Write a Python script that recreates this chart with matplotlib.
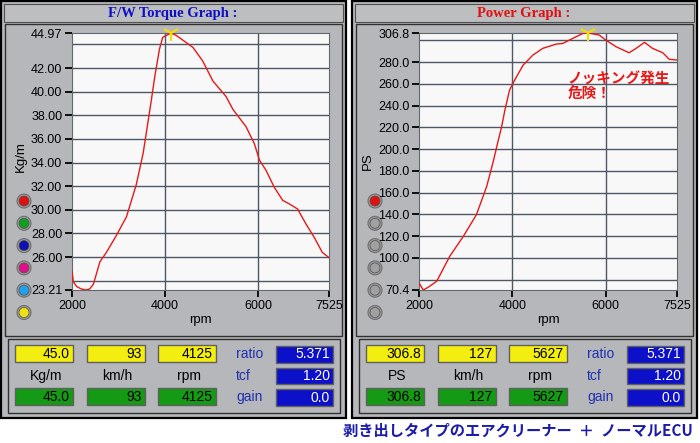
import numpy as np
import matplotlib.pyplot as plt
from matplotlib.patches import Rectangle, Circle

# Dane
torque_rpm = [2000, 2030, 2100, 2200, 2300, 2380, 2460, 2600, 2740, 2950, 3170,
              3380, 3530, 3640, 3710, 3780, 3880, 3950, 4125, 4240, 4600, 4810,
              5030, 5310, 5460, 5740, 5920, 6030, 6170, 6350, 6530, 6670, 6850,
              7030, 7210, 7380, 7525]
torque = [24.8, 23.9, 23.5, 23.3, 23.21, 23.3, 23.7, 25.6, 26.4, 27.8, 29.4,
          32.1, 34.8, 37.6, 39.4, 41.3, 43.6, 44.6, 44.97, 44.77, 43.75, 42.6,
          40.9, 39.6, 38.5, 37.05, 35.6, 34.2, 33.35, 31.9, 30.8, 30.5, 30.07,
          28.8, 27.65, 26.4, 25.95]

power_rpm = [2000, 2090, 2200, 2380, 2660, 2950, 3230, 3450, 3590, 3700, 3770,
             3840, 3940, 4050, 4230, 4440, 4650, 4940, 5080, 5290, 5510, 5627,
             5860, 6000, 6220, 6500, 6650, 6830, 7000, 7220, 7360, 7525]
power = [77, 70.4, 73, 78.5, 101.5, 119.8, 139.7, 165.7, 188.6, 208.5, 220.7,
         236, 254.4, 263.6, 277.3, 286.5, 292.7, 296.6, 297.2, 301.8, 306.4, 306.8,
         304.9, 300.3, 294.2, 288.6, 292.7, 298.2, 292.7, 288.6, 282.6, 282]

rpm_ticks = [2000, 4000, 6000, 7525]
rpm_grid = [4000, 6000]
torque_ticks = [23.21, 26, 28, 30, 32, 34, 36, 38, 40, 42, 44.97]
torque_grid = [24, 26, 28, 30, 32, 34, 36, 38, 40, 42, 44]
power_ticks = [70.4, 100, 120, 140, 160, 180, 200, 220, 240, 260, 280, 306.8]
power_grid = [80, 100, 120, 140, 160, 180, 200, 220, 240, 260, 280, 300]

torque_peak = (4125, 44.97)
power_peak = (5627, 306.8)

left_values = ['45.0', '93', '4125']
left_units = ['Kg/m', 'km/h', 'rpm']
right_values = ['306.8', '127', '5627']
right_units = ['PS', 'km/h', 'rpm']
param_names = ['ratio', 'tcf', 'gain']
param_values = ['5.371', '1.20', '0.0']

W, H = 700, 443
fig = plt.figure(figsize=(W / 100, H / 100), dpi=100, facecolor='white')

# tlo w pikselach
bg = fig.add_axes([0, 0, 1, 1])
bg.set_xlim(0, W)
bg.set_ylim(H, 0)
bg.axis('off')

PANEL = '#b5b7ba'
SANS = 'Liberation Sans'
JP = ['Noto Sans CJK JP', 'DejaVu Sans']


def rect(x0, y0, x1, y1, fc, ec='none', lw=1.0, z=1):
    bg.add_patch(Rectangle((x0, y0), x1 - x0, y1 - y0, facecolor=fc,
                           edgecolor=ec, linewidth=lw, zorder=z))


def draw_panel(ox, title, tcolor, values, units, button_colors):
    rect(ox + 1, 1, ox + 346, 418, PANEL, 'black', 1.6)
    rect(ox + 4, 4, ox + 343, 22, '#bcbec0', '#505050', 0.8)
    rect(ox + 5, 24, ox + 342, 336, PANEL, '#303030', 1.0)
    rect(ox + 8, 339, ox + 340, 413, PANEL, '#303030', 1.0)
    bg.text(ox + 173, 13, title, color=tcolor, ha='center', va='center',
            fontsize=10.5, fontweight='bold', family='Liberation Serif', zorder=3)
    # przyciski z boku
    for k, c in enumerate(button_colors):
        y = 201 + k * 22.3
        bg.add_patch(Circle((ox + 24, y), 7, facecolor='#9a9a9a',
                            edgecolor='#707070', lw=0.8, zorder=2))
        bg.add_patch(Circle((ox + 24, y), 5, facecolor=c,
                            edgecolor='#505050', lw=0.5, zorder=3))
    # pola z wartosciami
    for k in range(3):
        x0 = ox + 15 + k * 71.5
        rect(x0, 345, x0 + 58, 362, '#f4ee10', '#606060', 1.0, 2)
        bg.text(x0 + 55, 354, values[k], ha='right', va='center',
                fontsize=10, family=SANS, zorder=3)
        bg.text(x0 + 31, 376, units[k], ha='center', va='center',
                fontsize=10, family=SANS, zorder=3)
        rect(x0, 388, x0 + 58, 405, '#149a14', '#606060', 1.0, 2)
        bg.text(x0 + 55, 397, values[k], ha='right', va='center',
                fontsize=10, family=SANS, zorder=3)
    for k in range(3):
        y0 = 346 + k * 21.5
        bg.text(ox + 236, y0 + 8.5, param_names[k], ha='left', va='center',
                color='#2030b0', fontsize=10, family=SANS, zorder=3)
        rect(ox + 276, y0, ox + 333, y0 + 16.5, '#0c10c8', '#606060', 1.0, 2)
        bg.text(ox + 330, y0 + 8.5, param_values[k], ha='right', va='center',
                color='white', fontsize=10, family=SANS, zorder=3)


draw_panel(0, 'F/W Torque Graph :', '#1010c8', left_values, left_units,
           ['#e01010', '#10a020', '#1010b0', '#e0108c', '#20a0f0', '#f0e010'])
draw_panel(351, 'Power Graph :', '#e01010', right_values, right_units,
           ['#e01010', '#a0a0a0', '#a0a0a0', '#a0a0a0', '#a0a0a0', '#a0a0a0'])


def px_axes(x0, y0, x1, y1):
    return fig.add_axes([x0 / W, 1 - y1 / H, (x1 - x0) / W, (y1 - y0) / H])


def setup(ax, yticks, ygrid, fmt, ylabel):
    ax.set_facecolor('#f8f8f8')
    ax.set_xlim(2000, 7525)
    ax.set_xticks(rpm_ticks)
    ax.set_yticks(yticks)
    ax.set_yticklabels([fmt % v for v in yticks])
    for g in ygrid:
        ax.axhline(g, color='#4c5866', lw=1.0, zorder=1)
    for g in rpm_grid:
        ax.axvline(g, color='#4c5866', lw=1.0, zorder=1)
    for s in ax.spines.values():
        s.set_color('#606870')
        s.set_linewidth(0.8)
    ax.tick_params(axis='both', direction='out', length=5, width=1.3,
                   color='black', labelsize=9, pad=2)
    for lab in ax.get_xticklabels() + ax.get_yticklabels():
        lab.set_family(SANS)
    ax.set_xlabel('rpm', fontsize=9.5, family=SANS, labelpad=2)
    ax.set_ylabel(ylabel, fontsize=9.5, family=SANS)


ax1 = px_axes(72, 33, 329, 290)
ax1.set_ylim(23.21, 44.97)
setup(ax1, torque_ticks, torque_grid, '%.2f', 'Kg/m')
ax1.yaxis.set_label_coords(-0.175, 0.52)
ax1.plot(torque_rpm, torque, color='#e81818', lw=1.0, zorder=3)
ax1.plot(*torque_peak, marker='1', color='#f0e000', ms=12, mew=1.5,
         clip_on=False, zorder=4)

ax2 = px_axes(419, 33, 677, 290)
ax2.set_ylim(70.4, 306.8)
setup(ax2, power_ticks, power_grid, '%.1f', 'PS')
ax2.yaxis.set_label_coords(-0.175, 0.5)
ax2.plot(power_rpm, power, color='#e81818', lw=1.0, zorder=3)
ax2.plot(*power_peak, marker='1', color='#f0e000', ms=12, mew=1.5,
         clip_on=False, zorder=4)
ax2.text(0.575, 0.855, 'ノッキング発生\n危険！', transform=ax2.transAxes,
         color='#e81818', fontsize=10.5, fontweight='bold', family=JP,
         ha='left', va='top', linespacing=1.0, zorder=5)

bg.text(693, 431, '剥き出しタイプのエアクリーナー  ＋  ノーマルECU',
        color='#1c1ca8', fontsize=11, fontweight='bold', family=JP,
        ha='right', va='center')

plt.savefig('out.png', dpi=100)
